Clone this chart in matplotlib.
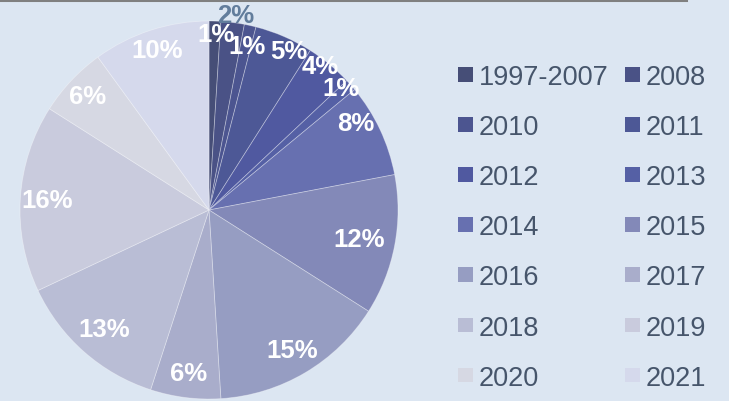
import numpy as np
import matplotlib
matplotlib.use("Agg")
import matplotlib.pyplot as plt
import matplotlib.patches as mpatches
from matplotlib.lines import Line2D

categories = ["1997-2007", "2008", "2010", "2011", "2012", "2013", "2014",
              "2015", "2016", "2017", "2018", "2019", "2020", "2021"]
values = [1, 2, 1, 5, 4, 1, 8, 12, 15, 6, 13, 16, 6, 10]
colors = ["#464E77", "#4A5286", "#4C5590", "#4D5896", "#5059A0", "#5560A5",
          "#6770B0", "#8389B8", "#969DC2", "#A9ADCB", "#B9BDD5", "#C9CBDD",
          "#D6D8E3", "#D5D9EC"]

# label placement style: radial fraction and angular nudge (degrees, clockwise)
label_r = [0.93, 1.04, 0.89, 0.94, 0.96, 0.95, 0.90, 0.81, 0.86, 0.87,
           0.84, 0.86, 0.88, 0.89]
label_da = [0.6, 0.7, 0.4, 3.2, -2.0, -1.3, -5.4, 0.0, 0.0, 0.0,
            0.0, 0.0, 0.0, 0.0]

bg = "#DCE6F2"
fig = plt.figure(figsize=(7.29, 4.02), dpi=100, facecolor=bg)

# top gray rule
fig.add_artist(Line2D([0, 686 / 729], [1 - 1 / 402, 1 - 1 / 402],
                      color="#808080", linewidth=2.2, transform=fig.transFigure))

ax = fig.add_axes([20 / 729, 2 / 402, 378 / 729, 378 / 402])
ax.set_facecolor(bg)
wedges, _ = ax.pie(values, colors=colors, startangle=90, counterclock=False,
                   radius=1.0,
                   wedgeprops=dict(edgecolor=(1, 1, 1, 0.35), linewidth=0.6))
ax.set_xlim(-1, 1)
ax.set_ylim(-1, 1)
ax.set_aspect("equal")
ax.axis("off")

total = float(sum(values))
for w, v, rf, da in zip(wedges, values, label_r, label_da):
    ang = np.deg2rad((w.theta1 + w.theta2) / 2.0 - da)
    x, y = rf * np.cos(ang), rf * np.sin(ang)
    col = "#627D9C" if rf > 1 else "white"
    ax.text(x, y, f"{v / total * 100:.0f}%", ha="center", va="center",
            fontsize=18.5, fontweight="bold", color=col,
            family=["Liberation Sans", "DejaVu Sans"], clip_on=False)

# legend, filled row-wise (2 columns)
handles = [mpatches.Patch(facecolor=c, edgecolor="none") for c in colors]
order = list(range(0, len(categories), 2)) + list(range(1, len(categories), 2))
leg = fig.legend([handles[i] for i in order], [categories[i] for i in order],
                 ncol=2, loc="upper left", bbox_to_anchor=(458 / 729, 1 - 65 / 402),
                 frameon=False, prop=dict(family="Liberation Sans", size=19.5),
                 labelcolor="#46556B", handlelength=0.55, handleheight=0.45,
                 handletextpad=0.22, columnspacing=0.6, labelspacing=0.89,
                 borderpad=0, borderaxespad=0)

fig.savefig("out.png", dpi=100, facecolor=bg)
